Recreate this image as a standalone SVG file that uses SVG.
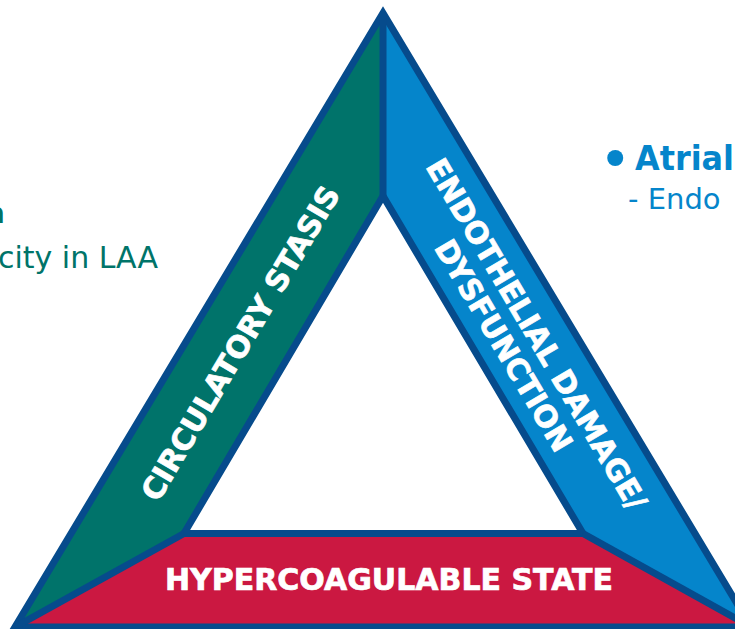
<svg xmlns="http://www.w3.org/2000/svg" width="735" height="629" viewBox="0 0 735 629">
  <style>
    .edge { fill: none; stroke: #064b8c; stroke-width: 7; stroke-linejoin: miter; stroke-linecap: butt; }
    .band { font-family: "DejaVu Sans", Verdana, sans-serif; font-weight: bold; fill: #ffffff; stroke: #ffffff; stroke-width: 0.7; font-size: 30px; text-anchor: middle; }
    .side { font-family: "DejaVu Sans", Verdana, sans-serif; }
    .teal { fill: #007469; }
    .azure { fill: #0585cb; }
  </style>
  <rect width="735" height="629" fill="#ffffff"/>

  <!-- side notes, cropped at the canvas edges -->
  <g id="note-left">
    <text class="side teal" x="5" y="223" text-anchor="end" font-weight="bold" font-size="29">n</text>
    <text class="side teal" x="158" y="268" text-anchor="end" font-size="30">city in LAA</text>
  </g>
  <g id="note-right">
    <text class="side azure" x="599" y="179" font-size="55">•</text>
    <text class="side azure" x="635" y="170" font-size="34" font-weight="bold" textLength="99" lengthAdjust="spacingAndGlyphs">Atrial</text>
    <text class="side azure" x="628" y="209" font-size="29">- Endo</text>
  </g>

  <!-- left band -->
  <g id="stasis">
    <polygon points="383,13 383,196 184,533.5 15,627" fill="#00736a"/>
    <text class="band" transform="translate(240,343) rotate(-59.4)" y="11">CIRCULATORY STASIS</text>
  </g>

  <!-- right band -->
  <g id="endothelial">
    <polygon points="383,13 751,627 583,533.5 383,196" fill="#0585cb"/>
    <g transform="translate(537,334) rotate(59.4)">
      <text class="band" x="0" y="11">ENDOTHELIAL DAMAGE/</text>
      <text class="band" x="-7" y="45">DYSFUNCTION</text>
    </g>
  </g>

  <!-- bottom band -->
  <g id="hypercoagulable">
    <polygon points="15,627 184,533.5 583,533.5 751,627" fill="#cb1841"/>
    <text class="band" x="389" y="590">HYPERCOAGULABLE STATE</text>
  </g>

  <!-- centre -->
  <g id="core">
    <polygon points="383,196 184,533.5 583,533.5" fill="#ffffff"/>
  </g>

  <!-- outlines and dividers -->
  <g id="connectors">
    <polygon class="edge" points="383,13 15,627 751,627"/>
    <polygon class="edge" points="383,196 184,533.5 583,533.5"/>
    <line class="edge" x1="383" y1="13" x2="383" y2="196"/>
    <line class="edge" x1="184" y1="533.5" x2="15" y2="627"/>
    <line class="edge" x1="583" y1="533.5" x2="751" y2="627"/>
  </g>
</svg>
